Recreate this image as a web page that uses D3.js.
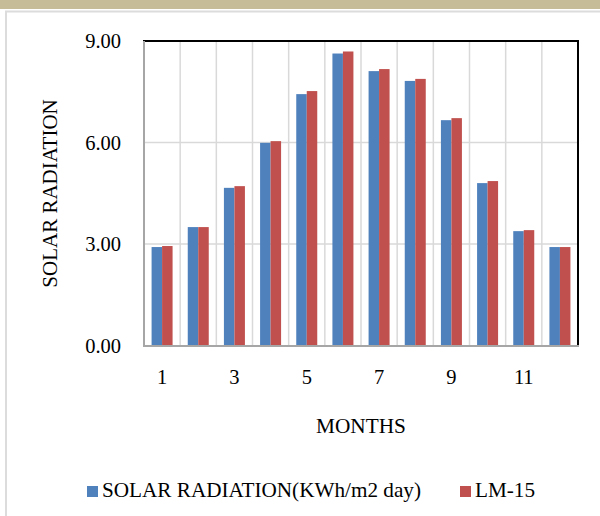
<!DOCTYPE html>
<html><head><meta charset="utf-8">
<script src="https://cdn.jsdelivr.net/npm/d3@7"></script>
<style>body{margin:0;background:#fff;}svg{display:block;}</style>
</head><body>
<svg id="c" width="600" height="516"></svg>
<script>
const months = [1,2,3,4,5,6,7,8,9,10,11,12];
const solarRadiation = [2.91,3.50,4.66,5.99,7.43,8.63,8.11,7.82,6.66,4.80,3.38,2.91];
const lm15 = [2.94,3.50,4.71,6.04,7.52,8.69,8.17,7.88,6.72,4.86,3.41,2.91];
const seriesNames = ["SOLAR RADIATION(KWh/m2 day)","LM-15"];
const seriesColors = ["#4f81bd","#c0504d"];
const yTicks = [0,3,6,9];
const xTickLabels = [1,3,5,7,9,11];

const svg = d3.select("#c");
const font = "'Liberation Serif','Times New Roman',serif";
// frame
svg.append("rect").attr("x",0).attr("y",0).attr("width",600).attr("height",9).attr("fill","#c6bd98");
svg.append("line").attr("x1",5).attr("x2",600).attr("y1",11.5).attr("y2",11.5).attr("stroke","#dcdcdc").attr("stroke-width",2);
svg.append("line").attr("x1",6).attr("x2",6).attr("y1",11).attr("y2",516).attr("stroke","#dcdcdc").attr("stroke-width",2);

const L=144,R=578,T=41,B=345.5;
const x = d3.scaleBand().domain(months).range([L,R]).padding(0);
const inner = d3.scaleBand().domain([0,1]).range([0,21]);
const off = (x.bandwidth()-21)/2;
const y = d3.scaleLinear().domain([0,9]).range([B,T]);

// gridlines
svg.append("g").selectAll("line").data(months.slice(1)).join("line")
  .attr("x1",d=>x(d)).attr("x2",d=>x(d)).attr("y1",T).attr("y2",B)
  .attr("stroke","#d9d9d9").attr("stroke-width",1.5);
svg.append("g").selectAll("line").data(yTicks.slice(1,-1)).join("line")
  .attr("x1",L).attr("x2",R).attr("y1",d=>y(d)).attr("y2",d=>y(d))
  .attr("stroke","#d9d9d9").attr("stroke-width",1.5);

// bars
const data = months.map((m,i)=>({m, v:[solarRadiation[i], lm15[i]]}));
const g = svg.append("g").selectAll("g").data(data).join("g")
  .attr("transform",d=>`translate(${x(d.m)+off},0)`);
g.selectAll("rect").data(d=>d.v.map((v,k)=>({v,k}))).join("rect")
  .attr("x",d=>inner(d.k)).attr("width",inner.bandwidth())
  .attr("y",d=>y(d.v)).attr("height",d=>B-y(d.v))
  .attr("fill",d=>seriesColors[d.k]);

// borders
svg.append("line").attr("x1",L-1).attr("x2",R+1).attr("y1",T).attr("y2",T).attr("stroke","#000").attr("stroke-width",2);
svg.append("line").attr("x1",R).attr("x2",R).attr("y1",T).attr("y2",B).attr("stroke","#000").attr("stroke-width",2);
svg.append("line").attr("x1",L).attr("x2",L).attr("y1",T).attr("y2",B+1).attr("stroke","#a6a6a6").attr("stroke-width",2);
svg.append("line").attr("x1",L-1).attr("x2",R+1).attr("y1",B+0.5).attr("y2",B+0.5).attr("stroke","#a6a6a6").attr("stroke-width",2);

// y axis
const ya = svg.append("g").attr("transform",`translate(${L},0)`)
  .call(d3.axisLeft(y).tickValues(yTicks).tickFormat(d3.format(".2f")).tickSize(0).tickPadding(23));
ya.select(".domain").remove();
ya.selectAll("text").attr("font-family",font).attr("font-size",20.5).attr("fill","#000");

// x axis
const xa = svg.append("g").attr("transform",`translate(0,${B})`)
  .call(d3.axisBottom(x).tickValues(xTickLabels).tickSize(0).tickPadding(24));
xa.select(".domain").remove();
xa.selectAll("text").attr("font-family",font).attr("font-size",20.5).attr("fill","#000");

// titles
svg.append("text").attr("x",361).attr("y",433).attr("text-anchor","middle")
  .attr("font-family",font).attr("font-size",21.3).text("MONTHS");
svg.append("text").attr("transform","translate(57,193.5) rotate(-90)").attr("text-anchor","middle")
  .attr("font-family",font).attr("font-size",21).text("SOLAR RADIATION");

// legend
const legX = [87,460];
const lg = svg.append("g").selectAll("g").data(seriesNames).join("g")
  .attr("transform",(d,i)=>`translate(${legX[i]},0)`);
lg.append("rect").attr("x",0).attr("y",486).attr("width",11).attr("height",11).attr("fill",(d,i)=>seriesColors[i]);
lg.append("text").attr("x",15).attr("y",497).attr("font-family",font).attr("font-size",21.2).text(d=>d);
</script>
</body></html>
